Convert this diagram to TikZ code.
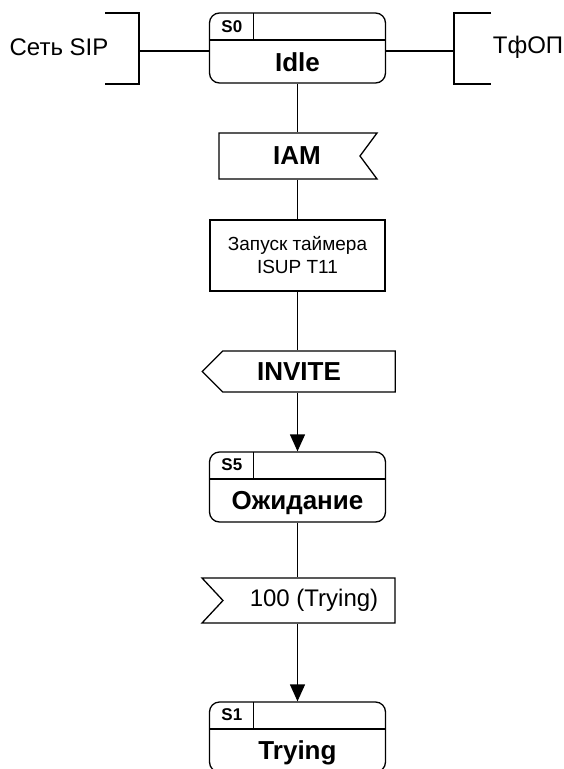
\documentclass[tikz,border=0pt]{standalone}
\usepackage{fontspec}
\setmainfont{Liberation Sans}
\usetikzlibrary{arrows.meta,shapes.symbols}

\begin{document}
\begin{tikzpicture}[
  x=1pt,y=-1pt,
  line width=1.3pt,
  state/.style={draw,rounded corners=10pt,minimum width=176pt,minimum height=70pt,inner sep=0pt,
    path picture={
      \draw ([yshift=-27pt]path picture bounding box.north west) -- ([yshift=-27pt]path picture bounding box.north east);
      \draw ([xshift=44pt]path picture bounding box.north west) -- ++(0,-27pt);
    }},
  statename/.style={font=\fontsize{26}{30}\selectfont\bfseries,text height=18.6pt,text depth=0pt,inner sep=0pt},
  statecode/.style={font=\fontsize{17}{20}\selectfont\bfseries,inner sep=0pt},
  inputsig/.style={draw,signal,signal to=nowhere,signal from=east,signal pointer angle=107,minimum width=158pt,minimum height=46pt,inner sep=0pt},
  outputsig/.style={draw,signal,signal to=west,signal pointer angle=90,minimum width=193pt,minimum height=41pt,inner sep=0pt},
  task/.style={draw,minimum width=175pt,minimum height=71pt,align=center,font=\fontsize{19}{23}\selectfont},
  bigbold/.style={font=\fontsize{26}{30}\selectfont\bfseries},
  plain/.style={font=\fontsize{24}{28}\selectfont},
  pad left/.style={execute at begin node={\hspace*{#1}}},
  pad right/.style={execute at end node={\hspace*{#1}}},
  arrow/.style={-{Triangle[length=17pt,width=15pt]}}
]
  \useasboundingbox (0,0) rectangle (564,769);
  \clip (0,0) rectangle (564,769);

  % environment
  \coordinate (sip-port) at (139,51);
  \coordinate (pstn-port) at (454,51);
  \node[plain] (sip-label) at (59,47) {Сеть SIP};
  \node[plain] (pstn-label) at (528,47) {ТфОП};
  \draw (105,13) -| (139,84) -- (105,84);
  \draw (491,13) -| (454,84) -- (491,84);

  % process flow
  \node[state] (idle) at (297.5,48) {};
  \node[inputsig,bigbold,pad left=15pt] (iam) at (289.5,156) {IAM};
  \node[task] (timer) at (297.5,255.5) {Запуск таймера\\ISUP T11};
  \node[outputsig,bigbold,pad right=20pt] (invite) at (309,371.5) {INVITE};
  \node[state] (wait) at (297.5,487) {};
  \node[inputsig,plain,signal from=west,signal pointer angle=94,minimum width=193pt,minimum height=45pt,pad left=10pt] (trying-msg) at (309,600.5) {100 (Trying)};
  \node[state] (trying) at (297.5,737) {};

  \draw (sip-port) -- (idle.west |- sip-port);
  \draw (pstn-port) -- (idle.east |- pstn-port);
  \draw (idle.south) -- (idle.south |- iam.north);
  \draw (idle.south |- iam.south) -- (timer.north);
  \draw (timer.south) -- (timer.south |- invite.north);
  \draw[arrow] (timer.south |- invite.south) -- (wait.north);
  \draw (wait.south) -- (wait.south |- trying-msg.north);
  \draw[arrow] (wait.south |- trying-msg.south) -- (trying.north);

  % state labels
  \node[statecode] (idle-code) at ([xshift=23pt,yshift=-14pt]idle.north west) {S0};
  \node[statename] (idle-name) at ([yshift=21.5pt]idle.south) {Idle};
  \node[statecode] (wait-code) at ([xshift=23pt,yshift=-13pt]wait.north west) {S5};
  \node[statename] (wait-name) at ([yshift=22.5pt]wait.south) {Ожидание};
  \node[statecode] (trying-code) at ([xshift=23pt,yshift=-13pt]trying.north west) {S1};
  \node[statename] (trying-name) at ([yshift=22.5pt]trying.south) {Trying};
\end{tikzpicture}
\end{document}
